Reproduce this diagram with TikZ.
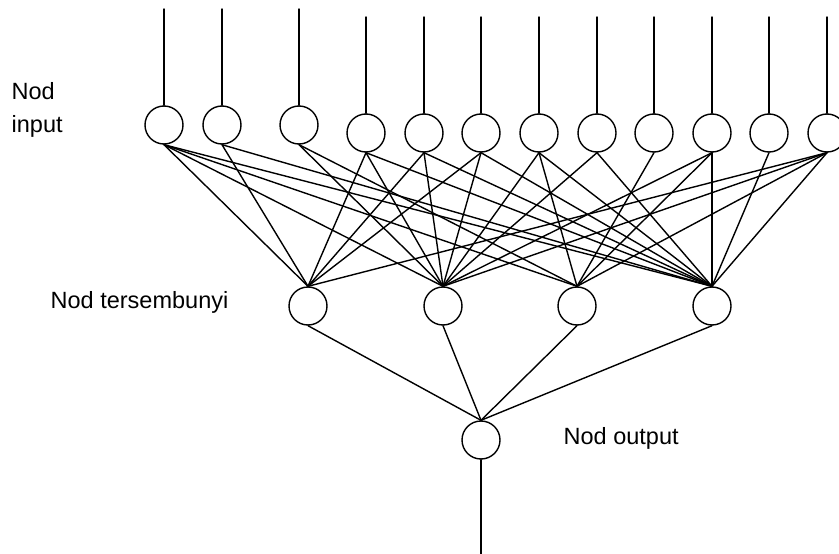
\documentclass[tikz,border=0pt]{standalone}
\usepackage{fontspec}
\setmainfont{Liberation Sans}
\begin{document}
\begin{tikzpicture}[x=1pt,y=-1pt,line width=1.4pt,line cap=round,
  neuron/.style={circle,draw,fill=white,minimum size=38pt,inner sep=0pt,line width=1.4pt},
  lbl/.style={font=\fontsize{23.5}{28}\selectfont,anchor=base west,inner sep=0pt},
  wire/.style={line width=1.4pt}]
\useasboundingbox (0,0) rectangle (839,554);
% input nodes
\foreach \i/\x/\y/\t in {1/164/125/9,2/222/125/9,3/299/125/9,4/366/133/17,5/424/133/17,6/481/133/17,7/539/133/17,8/597/133/17,9/654/133/17,10/712/133/17,11/769/133/17,12/827/133/17}{
  \node[neuron] (i\i) at (\x,\y) {};
  \coordinate (t\i) at (\x,\t);
  \draw[wire] (t\i) -- (i\i.north);
}
% hidden nodes
\foreach \j/\x in {1/308,2/443,3/577,4/712}{
  \node[neuron] (h\j) at (\x,306) {};
}
\node[neuron] (o) at (481,440) {};
\coordinate (oe) at (481,554);
% input -> hidden
\foreach \a/\b in {1/1,1/2,1/3,1/4,
                   2/1,2/4,
                   3/2,3/3,
                   4/1,4/2,4/4,
                   5/1,5/2,5/4,
                   6/1,6/2,6/4,
                   7/2,7/3,7/4,
                   8/2,8/4,
                   9/3,
                   10/2,10/3,10/4,
                   11/4,
                   12/1,12/2,12/3,12/4}{
  \draw[wire] (i\a.south) -- (h\b.north);
}
% hidden -> output
\foreach \j in {1,2,3,4}{
  \draw[wire] (h\j.south) -- (o.north);
}
\draw[wire] (o.south) -- (oe);
% labels
\node[lbl] (l1) at (11,99) {Nod};
\node[lbl] (l2) at (11,132) {input};
\node[lbl] (l3) at (50,308) {Nod tersembunyi};
\node[lbl] (l4) at (563,444) {Nod output};
\end{tikzpicture}
\end{document}
